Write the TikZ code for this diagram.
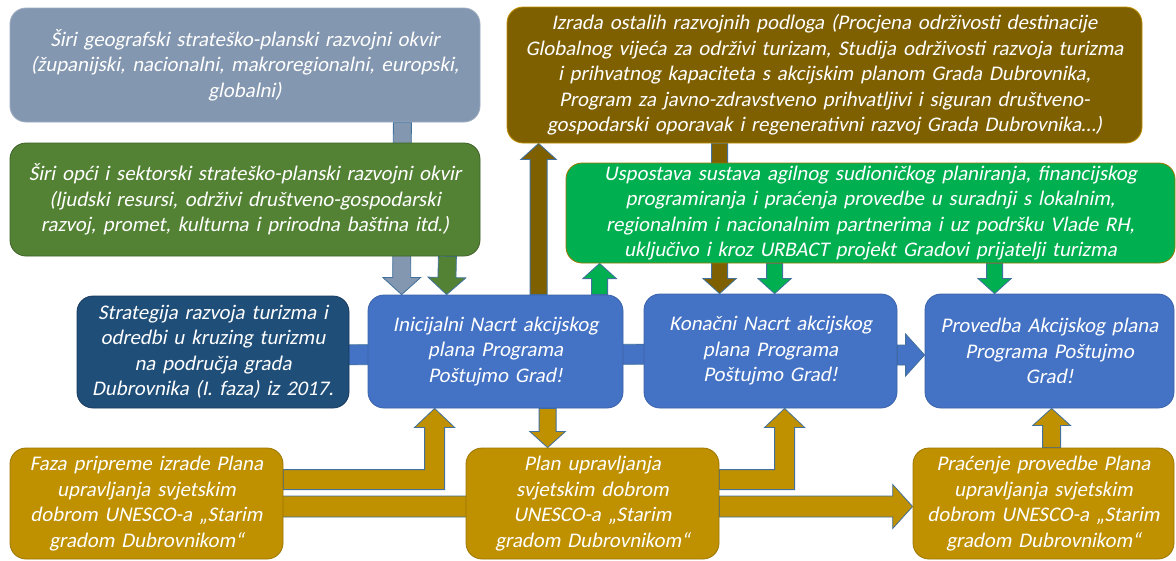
\documentclass[tikz,border=0pt]{standalone}
\usepackage{fontspec}
\setmainfont{Carlito}[AutoFakeSlant=0.2]
\usetikzlibrary{calc,backgrounds}

\definecolor{geoblue}{HTML}{8497B0}
\definecolor{geoedge}{HTML}{9DACC2}
\definecolor{opcigreen}{HTML}{548235}
\definecolor{opciedge}{HTML}{3D6127}
\definecolor{izradabrown}{HTML}{7F6000}
\definecolor{usposgreen}{HTML}{00B050}
\definecolor{stratblue}{HTML}{1F4E79}
\definecolor{stratedge}{HTML}{1A3A5E}
\definecolor{nacrtblue}{HTML}{4472C4}
\definecolor{nacrtedge}{HTML}{3A62AA}
\definecolor{unescogold}{HTML}{BF9000}
\definecolor{goldedge}{HTML}{9C7600}
\definecolor{arrowblue}{HTML}{41719C}

% block arrow: [shaft half-width]{fill}{start}{tip}
\newcommand{\blockarrow}[4][9]{%
  \pgfmathsetlengthmacro\shaftw{#1}%
  \pgfmathsetlengthmacro\headw{2.1*#1}%
  \pgfmathsetlengthmacro\headl{1.9*#1}%
  \path (#3) coordinate (ba-s) (#4) coordinate (ba-t);
  \path ($(ba-t)!\headl!(ba-s)$) coordinate (ba-h);
  \filldraw[arrowline, fill=#2] ($(ba-s)!\shaftw!90:(ba-t)$) -- ($(ba-h)!\shaftw!-90:(ba-s)$)
    -- ($(ba-h)!\headw!-90:(ba-s)$) -- (ba-t) -- ($(ba-h)!\headw!90:(ba-s)$)
    -- ($(ba-h)!\shaftw!90:(ba-s)$) -- ($(ba-s)!\shaftw!-90:(ba-t)$) -- cycle;}
% bent arrow: right, then up
\newcommand{\elbowarrow}[3]{%
  \filldraw[arrowline, fill=#1] let \p1=(#2), \p2=(#3) in
    (\x1,\y1+10pt) -- (\x2-10pt,\y1+10pt) -- (\x2-10pt,\y2-19pt) -- (\x2-20pt,\y2-19pt)
    -- (\x2,\y2) -- (\x2+20pt,\y2-19pt) -- (\x2+10pt,\y2-19pt) -- (\x2+10pt,\y1-10pt)
    -- (\x1,\y1-10pt) -- cycle;}

\begin{document}
\begin{tikzpicture}[x=1pt, y=-1pt,
    box/.style={rectangle, rounded corners=16pt, line width=0.8pt, text=white, align=center,
      inner xsep=5pt, inner ysep=0pt, font=\itshape\fontsize{20.8}{25.5}\selectfont},
    arrowline/.style={draw=arrowblue, line width=0.8pt, line join=miter}]
  \useasboundingbox (0,0) rectangle (1176,560);

  \node[box, fill=geoblue, draw=geoedge, text width=460pt, minimum height=114pt] (geo) at (245,65)
    {Širi geografski strateško-planski razvojni okvir\\(županijski, nacionalni, makroregionalni, europski,\\globalni)};
  \node[box, fill=opcigreen, draw=opciedge, text width=460pt, minimum height=113pt] (opci) at (245,199.5)
    {Širi opći i sektorski strateško-planski razvojni okvir\\(ljudski resursi, održivi društveno-gospodarski\\razvoj, promet, kulturna i prirodna baština itd.)};
  \node[box, fill=izradabrown, draw=unescogold, text width=625pt, minimum height=136pt] (izrada) at (824.5,75)
    {Izrada ostalih razvojnih podloga (Procjena održivosti destinacije\\Globalnog vijeća za održivi turizam, Studija održivosti razvoja turizma\\i prihvatnog kapaciteta s akcijskim planom Grada Dubrovnika,\\Program za javno-zdravstveno prihvatljivi i siguran društveno-\\gospodarski oporavak i regenerativni razvoj Grada Dubrovnika…)};
  \node[box, fill=usposgreen, draw=goldedge, text width=599pt, minimum height=100pt] (uspostava) at (870.5,213)
    {Uspostava sustava agilnog sudioničkog planiranja, financijskog\\programiranja i praćenja provedbe u suradnji s lokalnim,\\regionalnim i nacionalnim partnerima i uz podršku Vlade RH,\\uključivo i kroz URBACT projekt Gradovi prijatelji turizma};

  \node[box, fill=stratblue, draw=stratedge, text width=262pt, minimum height=112pt] (strategija) at (213,352)
    {Strategija razvoja turizma i\\odredbi u kruzing turizmu\\na područja grada\\Dubrovnika (I. faza) iz 2017.};
  \node[box, fill=nacrtblue, draw=nacrtedge, text width=245pt, minimum height=113pt] (inicijalni) at (495.5,351.5)
    {Inicijalni Nacrt akcijskog\\plana Programa\\Poštujmo Grad!};
  \node[box, fill=nacrtblue, draw=nacrtedge, text width=243pt, minimum height=114pt] (konacni) at (770.5,351)
    {Konačni Nacrt akcijskog\\plana Programa\\Poštujmo Grad!};
  \node[box, fill=nacrtblue, draw=nacrtedge, text width=239pt, minimum height=114pt] (provedba) at (1049.5,351)
    {Provedba Akcijskog plana\\Programa Poštujmo\\Grad!};

  \node[box, fill=unescogold, draw=goldedge, text width=263pt, minimum height=111pt] (faza) at (146.5,503.5)
    {Faza pripreme izrade Plana\\upravljanja svjetskim\\dobrom UNESCO-a „Starim\\gradom Dubrovnikom“};
  \node[box, fill=unescogold, draw=goldedge, text width=243pt, minimum height=111pt] (plan) at (592.5,503.5)
    {Plan upravljanja\\svjetskim dobrom\\UNESCO-a „Starim\\gradom Dubrovnikom“};
  \node[box, fill=unescogold, draw=goldedge, text width=251pt, minimum height=111pt] (pracenje) at (1043.5,503.5)
    {Praćenje provedbe Plana\\upravljanja svjetskim\\dobrom UNESCO-a „Starim\\gradom Dubrovnikom“};

  \begin{scope}[on background layer]
    \fill[white] (0,0) rectangle (1176,560);
    \blockarrow{geoblue}{$(geo.south east)+(-78,0)$}{$(inicijalni.north west)+(34,0)$}
    \blockarrow{opcigreen}{$(opci.south east)+(-33,0)$}{$(inicijalni.north west)+(79,0)$}
    \blockarrow[8.5]{izradabrown}{$(inicijalni.north west)+(171,0)$}{$(izrada.south west)+(32,0)$}
    \blockarrow[8]{usposgreen}{$(inicijalni.north west)+(232,0)$}{$(uspostava.south west)+(34,0)$}
    \blockarrow[8]{izradabrown}{$(izrada.south west)+(213,0)$}{$(konacni.north west)+(76,0)$}
    \blockarrow[8]{usposgreen}{$(uspostava.south west)+(209,0)$}{$(konacni.north west)+(131,0)$}
    \blockarrow[8]{usposgreen}{$(uspostava.south west)+(429,0)$}{$(provedba.north west)+(70,0)$}

    \blockarrow[10]{nacrtblue}{$(strategija.center)+(0,3)$}{$(inicijalni.center)+(0,3)$}
    \blockarrow[10]{nacrtblue}{$(inicijalni.center)+(0,3)$}{$(konacni.center)+(0,3)$}
    \blockarrow[10]{nacrtblue}{$(konacni.east)+(0,4)$}{$(provedba.west)+(0,4)$}

    \blockarrow[8.5]{unescogold}{$(inicijalni.south west)+(180,0)$}{$(plan.north west)+(82,0)$}
    \blockarrow[9]{unescogold}{$(pracenje.north west)+(139,0)$}{$(provedba.south west)+(127,0)$}
    \blockarrow[10.5]{unescogold}{$(faza.center)+(0,3)$}{$(plan.center)+(0,3)$}
    \blockarrow[10.5]{unescogold}{$(plan.east)+(0,3)$}{$(pracenje.west)+(0,3)$}
    \elbowarrow{unescogold}{$(faza.north east)+(0,32)$}{$(inicijalni.south west)+(67,0)$}
    \elbowarrow{unescogold}{$(plan.north east)+(0,32)$}{$(konacni.south west)+(141,0)$}
  \end{scope}
\end{tikzpicture}
\end{document}
